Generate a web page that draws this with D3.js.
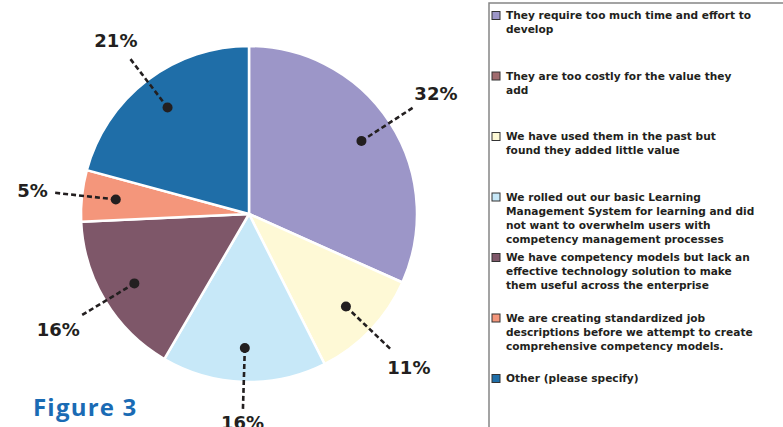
<!DOCTYPE html>
<html>
<head>
<meta charset="utf-8">
<script src="https://cdn.jsdelivr.net/npm/d3@7"></script>
<style>
  html, body { margin: 0; padding: 0; background: #ffffff; }
  svg { display: block; }
</style>
</head>
<body>
<svg id="chart" width="783" height="427"></svg>
<script>
// Reasons given, in legend order ("\n" marks the legend line breaks)
const categories = [
  "They require too much time and effort to\ndevelop",
  "They are too costly for the value they\nadd",
  "We have used them in the past but\nfound they added little value",
  "We rolled out our basic Learning\nManagement System for learning and did\nnot want to overwhelm users with\ncompetency management processes",
  "We have competency models but lack an\neffective technology solution to make\nthem useful across the enterprise",
  "We are creating standardized job\ndescriptions before we attempt to create\ncomprehensive competency models.",
  "Other (please specify)"
];
// Share of respondents (%)
const values = [32, 0, 11, 16, 16, 5, 21];
const colors = ["#9c96c8", "#a06b6e", "#fef9d6", "#c7e8f8", "#7e5769", "#f4967b", "#1f6ea8"];
const title = "Figure 3";

const svg = d3.select("#chart");
const cx = 249, cy = 214, R = 168;

const pie = d3.pie().sort(null).value(d => d.value);
const data = categories.map((c, i) => ({ label: c, value: values[i], color: colors[i] }));
const arcs = pie(data);

const arc = d3.arc().innerRadius(0).outerRadius(R);
const dotArc = d3.arc().innerRadius(134).outerRadius(134);
const endArc = d3.arc().innerRadius(198).outerRadius(198);

const g = svg.append("g").attr("transform", `translate(${cx},${cy})`);

g.selectAll("path.slice")
  .data(arcs.filter(a => a.value > 0))
  .join("path")
  .attr("class", "slice")
  .attr("d", arc)
  .attr("fill", d => d.data.color)
  .attr("stroke", "#ffffff")
  .attr("stroke-width", 2.5)
  .attr("stroke-linejoin", "round");

// Leader lines, dots and percentage labels
const labelled = arcs.filter(a => a.value > 0);
const ink = "#231f20";

labelled.forEach(a => {
  const p0 = dotArc.centroid(a);
  const p1 = endArc.centroid(a);
  g.append("line")
    .attr("x1", p0[0]).attr("y1", p0[1])
    .attr("x2", p1[0]).attr("y2", p1[1])
    .attr("stroke", ink)
    .attr("stroke-width", 2.6)
    .attr("stroke-dasharray", "5,3");
  g.append("circle")
    .attr("cx", p0[0]).attr("cy", p0[1])
    .attr("r", 5)
    .attr("fill", ink);

  const t = g.append("text")
    .text(a.value + "%")
    .attr("font-family", "DejaVu Sans, Verdana, sans-serif")
    .attr("font-weight", "bold")
    .attr("font-size", 18)
    .attr("fill", ink)
    .attr("text-anchor", "middle");
  const w = t.node().getComputedTextLength();
  const capH = 14;
  const ang = (a.startAngle + a.endAngle) / 2;
  const sx = Math.sin(ang), sy = -Math.cos(ang);
  const off = Math.abs(sx) * w / 2 + Math.abs(sy) * 5 + 4;
  const tx = p1[0] + sx * off;
  const ty = p1[1] + sy * off;
  t.attr("x", tx).attr("y", ty + capH / 2);
});

// Legend box
const lx = 489, ly = 3;
svg.append("rect")
  .attr("x", lx).attr("y", ly)
  .attr("width", 400).attr("height", 500)
  .attr("fill", "none")
  .attr("stroke", "#858585")
  .attr("stroke-width", 1.5);

const legend = svg.append("g");
const step = 60.5, lineH = 14;
categories.forEach((c, i) => {
  const top = ly + 12 + i * step;
  legend.append("rect")
    .attr("x", lx + 3).attr("y", top - 3.5)
    .attr("width", 8).attr("height", 8)
    .attr("fill", colors[i])
    .attr("stroke", "#333333")
    .attr("stroke-width", 1);
  const txt = legend.append("text")
    .attr("x", lx + 17).attr("y", top + 4)
    .attr("font-family", "DejaVu Sans, Verdana, sans-serif")
    .attr("font-weight", "bold")
    .attr("font-size", 10.6)
    .attr("fill", "#231f20");
  c.split("\n").forEach((line, j) => {
    txt.append("tspan")
      .attr("x", lx + 17)
      .attr("dy", j === 0 ? 0 : lineH)
      .text(line);
  });
});

// Figure title
svg.append("text")
  .attr("x", 33).attr("y", 416)
  .attr("font-family", "Open Sans, Lato, sans-serif")
  .attr("font-weight", "bold")
  .attr("font-size", 24)
  .attr("letter-spacing", 1.2)
  .attr("fill", "#1a6bb4")
  .text(title);
</script>
</body>
</html>
